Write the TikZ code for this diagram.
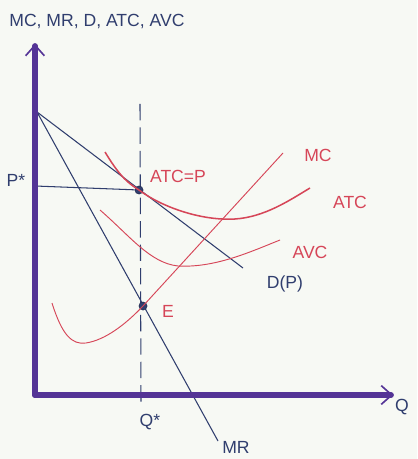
\documentclass[tikz,border=0pt]{standalone}
\usepackage{fontspec}
\setmainfont{Liberation Sans}
\usetikzlibrary{positioning, arrows.meta, calc}

\definecolor{paper}{RGB}{247,249,244}
\definecolor{axpurple}{RGB}{84,52,150}
\definecolor{inkblue}{RGB}{48,62,110}
\definecolor{inkred}{RGB}{214,70,88}

\begin{document}
\begin{tikzpicture}[
  x=0.03cm, y=-0.03cm,
  every node/.style={font=\fontsize{15}{17}\selectfont},
  axis/.style={line width=5pt, axpurple, line cap=round,
    -{Straight Barb[length=9pt, width=16pt, line width=1.4pt]}},
  ink/.style={line width=0.9pt, inkblue},
  cost/.style={line width=0.8pt, inkred},
  guide/.style={line width=0.9pt, inkblue, dash pattern=on 14pt off 6pt},
  dot/.style={circle, fill=inkblue, draw=inkblue!70!black, inner sep=0pt, minimum size=7pt},
  lbl/.style={text=inkblue, inner sep=1pt},
  rlbl/.style={text=inkred, inner sep=1pt}
]

% ---------- Canvas ----------
\fill[paper] (0,0) rectangle (417,459);
\useasboundingbox (0,0) rectangle (417,459);

% ---------- Key points ----------
\coordinate (O)     at (35,395);
\coordinate (ytip)  at (35,44);
\coordinate (xtip)  at (393,395);
\coordinate (pmax)  at (37,112);
\coordinate (dend)  at (243,268);
\coordinate (mrend) at (218,441);
\coordinate (qtop)  at (140,104);
\coordinate (qbot)  at (141,406);
\coordinate (pstar) at (35,186);

% ---------- Demand and marginal revenue ----------
\draw[ink] (pmax) -- (dend);
\draw[ink] (pmax) -- (mrend);

% ---------- Q* guide and P* line ----------
\draw[guide] (qtop) -- (qbot);
\node[dot] (atceq) at (139,190) {};
\node[dot] (E) at (143,306) {};
\draw[ink] (pstar) -- (atceq);

% ---------- Cost curves ----------
% MC
\draw[cost] (52,303) .. controls (62,335) and (72,345) .. (86,343)
  .. controls (105,340) and (125,325) .. (E.center) -- (283,153);
% ATC
\draw[cost, line width=1.3pt] (105,152) .. controls (116,170) and (124,181) .. (atceq.center)
  .. controls (160,206) and (200,221) .. (235,219)
  .. controls (265,217) and (290,200) .. (310,188);
% AVC
\draw[cost] (100,210) .. controls (130,236) and (150,263) .. (178,266)
  .. controls (215,268) and (250,252) .. (280,240);

% ---------- Axes ----------
\draw[axis] (O) -- (ytip);
\draw[axis] (O) -- (xtip);

% ---------- Labels ----------
\node[lbl, anchor=south west] (ylab) at (8,30) {MC, MR, D, ATC, AVC};
\node[lbl] (xlab) at (402,407) {Q};
\node[lbl] (plab) at (16,180) {P*};
\node[lbl] (qlab) at (150,422) {Q*};
\node[lbl] (dlab) at (285,284) {D(P)};
\node[lbl] (mrlab) at (236,447) {MR};
\node[rlbl] (atcplab) at (178,176) {ATC=P};
\node[rlbl] (Elab) at (168,311) {E};
\node[rlbl] (mclab) at (318,155) {MC};
\node[rlbl] (atclab) at (350,202) {ATC};
\node[rlbl] (avclab) at (310,252) {AVC};

\end{tikzpicture}
\end{document}
